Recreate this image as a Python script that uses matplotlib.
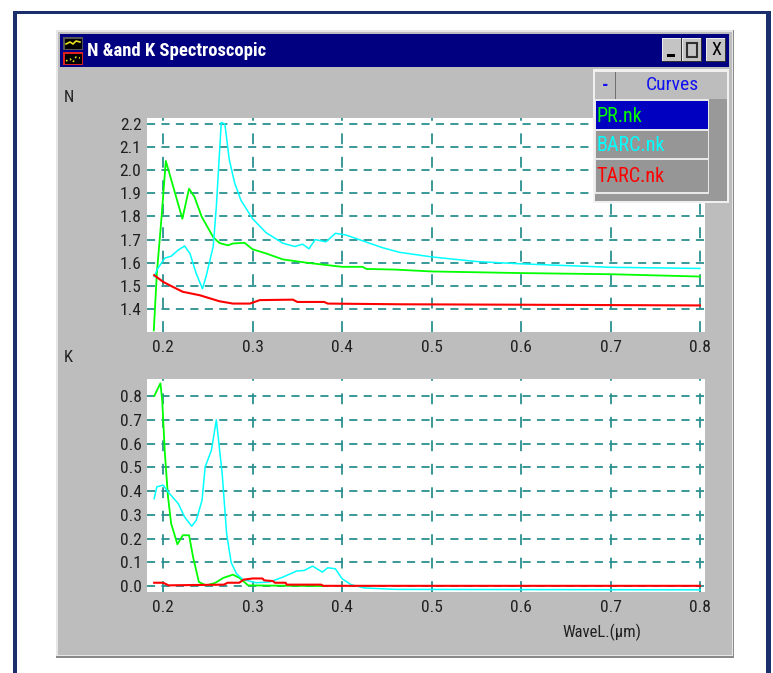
import matplotlib
matplotlib.use('Agg')
import matplotlib.pyplot as plt
from matplotlib.patches import Rectangle

W, H = 773, 673
plt.rcParams['font.family'] = ['Roboto Condensed', 'Liberation Sans', 'DejaVu Sans']

# N curves
n_pr_x = [.1896, .193, .198, .203, .209, .2215, .229, .235, .243, .256, .263, .2725, .278, .291, .30, .315, .334, .36, .382, .40, .423, .427, .46, .5, .6, .7, .8]
n_pr_y = [1.307, 1.553, 1.785, 2.04, 1.96, 1.79, 1.92, 1.885, 1.80, 1.71, 1.685, 1.675, 1.683, 1.686, 1.658, 1.64, 1.614, 1.60, 1.59, 1.582, 1.582, 1.573, 1.57, 1.562, 1.555, 1.55, 1.54]
n_barc_x = [.19, .194, .202, .209, .217, .224, .23, .237, .244, .248, .256, .2595, .265, .269, .274, .28, .287, .30, .315, .334, .347, .356, .363, .37, .382, .3925, .404, .419, .445, .464, .5, .55, .6, .7, .8]
n_barc_y = [1.54, 1.575, 1.62, 1.628, 1.655, 1.672, 1.64, 1.553, 1.487, 1.54, 1.67, 1.843, 2.207, 2.2, 2.045, 1.944, 1.87, 1.79, 1.73, 1.684, 1.67, 1.68, 1.66, 1.70, 1.69, 1.727, 1.72, 1.70, 1.665, 1.645, 1.625, 1.605, 1.595, 1.58, 1.575]
n_tarc_x = [.19, .2, .211, .222, .241, .263, .278, .297, .308, .345, .35, .38, .384, .464, .6, .8]
n_tarc_y = [1.546, 1.517, 1.495, 1.474, 1.459, 1.433, 1.423, 1.423, 1.438, 1.44, 1.43, 1.43, 1.423, 1.42, 1.418, 1.415]

# K curves
k_pr_x = [.19, .197, .199, .202, .2055, .209, .216, .222, .229, .2335, .24, .248, .258, .267, .278, .2855, .295, .38]
k_pr_y = [.80, .854, .783, .558, .375, .263, .176, .214, .214, .122, .017, .003, .013, .034, .048, .034, .003, 0]
k_barc_x = [.19, .193, .2, .207, .217, .224, .232, .237, .2435, .247, .254, .2595, .266, .271, .276, .282, .289, .304, .319, .334, .349, .358, .367, .378, .384, .3925, .40, .41, .425, .46, .8]
k_barc_y = [.368, .418, .425, .39, .347, .291, .252, .277, .361, .502, .572, .70, .474, .22, .10, .052, .028, .014, .017, .038, .063, .066, .084, .059, .077, .073, .031, .006, -.008, -.014, -.016]
k_tarc_x = [.19, .2, .206, .268, .272, .285, .29, .30, .311, .313, .3227, .325, .337, .338, .3766, .379, .8]
k_tarc_y = [.014, .014, .003, .006, .014, .014, .027, .032, .032, .024, .021, .014, .014, .006, .006, .001, .001]

x_ticks = [.2, .3, .4, .5, .6, .7, .8]
n_ticks = [1.4, 1.5, 1.6, 1.7, 1.8, 1.9, 2.0, 2.1, 2.2]
k_ticks = [0, .1, .2, .3, .4, .5, .6, .7, .8]
curve_names = ['PR.nk', 'BARC.nk', 'TARC.nk']
curve_colors = ['#00ff00', '#00ffff', '#ff0000']

GRAY = '#bdbdbd'
TEAL = '#2b9090'

fig = plt.figure(figsize=(W / 100, H / 100), dpi=100, facecolor='white')


def pixel_axes(z):
    a = fig.add_axes([0, 0, 1, 1], zorder=z)
    a.set_xlim(0, W)
    a.set_ylim(H, 0)
    a.axis('off')
    a.patch.set_alpha(0)
    return a


def box(a, x0, y0, x1, y1, color, **kw):
    a.add_patch(Rectangle((x0, y0), x1 - x0, y1 - y0, facecolor=color, edgecolor='none', **kw))


back = pixel_axes(0)
# outer frame
box(back, 13, 11, 771, 14, '#1a2f6b')
box(back, 13, 11, 17, H, '#1a2f6b')
box(back, 766, 11, 771, H, '#1a2f6b')
# window
box(back, 56, 30, 734, 658, '#8a8a8a')
box(back, 56, 30, 733, 656, '#e6e6e6')
box(back, 58, 32, 732, 655, GRAY)
box(back, 60, 34, 729, 67, '#000080')
back.text(87, 51, 'N &and K Spectroscopic', color='white', fontsize=13.4, fontweight='bold', va='center', ha='left')

# icon
for y0, edge in [(37, '#555555'), (52, '#e02020')]:
    box(back, 63, y0, 83, y0 + 13, edge)
    box(back, 64.5, y0 + 1.5, 81.5, y0 + 11.5, 'black')
back.plot([66, 70, 73, 76, 80], [44, 42, 44, 41, 42], color='#e8e020', lw=1.2)
back.plot([66, 70, 73, 76, 80], [61, 59, 62, 57, 58], color='#e8e020', lw=1.2, ls=':')

# window buttons
for x0, x1 in [(662, 682), (682, 702), (706, 726)]:
    box(back, x0, 38, x1, 62, '#303030')
    box(back, x0, 38, x1 - 1, 61, '#ececec')
    box(back, x0 + 1, 39, x1 - 1, 61, '#c4c4c4')
box(back, 667, 54, 675, 57, 'black')
back.add_patch(Rectangle((687, 43), 10, 14, facecolor='none', edgecolor='#303030', lw=1.5))
back.text(716, 50, 'X', color='black', fontsize=13, ha='center', va='center')

back.text(64, 97, 'N', fontsize=12, color='#202020', ha='left', va='center')
back.text(64, 358, 'K', fontsize=12, color='#202020', ha='left', va='center')
back.text(602, 632, 'WaveL.(µm)', fontsize=12, color='#202020', ha='center', va='center')


def plot_panel(top, bottom, ylim, yticks, curves):
    ax = fig.add_axes([147 / W, 1 - bottom / H, (705 - 147) / W, (bottom - top) / H], zorder=1)
    ax.set_facecolor('white')
    ax.set_xlim(.182, .8056)
    ax.set_ylim(*ylim)
    for s in ax.spines.values():
        s.set_visible(False)
    ax.set_xticks(x_ticks)
    ax.set_xticklabels(['%.1f' % v for v in x_ticks])
    ax.set_yticks(yticks)
    ax.set_yticklabels(['%.1f' % v for v in yticks])
    ax.tick_params(length=0, labelsize=12.5, labelcolor='#202020', pad=4)
    ax.tick_params(axis='x', pad=6)
    for v in x_ticks:
        ax.axvline(v, color=TEAL, lw=1.3, dashes=(6, 7), zorder=1)
    for v in yticks:
        ax.axhline(v, color=TEAL, lw=1.3, dashes=(4.5, 3.5), zorder=1)
    for (xs, ys), c, w in zip(curves, curve_colors, [1.3, 1.1, 1.5]):
        ax.plot(xs, ys, color=c, lw=w, solid_joinstyle='round', zorder=3)
    return ax


plot_panel(118, 332, (1.30, 2.226), n_ticks,
           [(n_pr_x, n_pr_y), (n_barc_x, n_barc_y), (n_tarc_x, n_tarc_y)])
plot_panel(379, 592, (-.025, .872), k_ticks,
           [(k_pr_x, k_pr_y), (k_barc_x, k_barc_y), (k_tarc_x, k_tarc_y)])

# curves list box
top = pixel_axes(5)
box(top, 593, 69, 729, 203, '#f0f0f0')
box(top, 595, 72, 727, 201, '#999999')
box(top, 595, 72, 727, 99, GRAY)
box(top, 615, 72, 616, 99, '#707070')
top.text(605, 86, '-', color='#1010f0', fontsize=13, fontweight='bold', ha='center', va='center')
top.text(672, 85, 'Curves', color='#1010f0', fontsize=14, ha='center', va='center')
rows = [(101, 129, '#0000c0'), (131, 158, '#969696'), (160, 192, '#969696')]
box(top, 595, 99, 709, 194, '#e8e8e8')
for (y0, y1, bg), name, c in zip(rows, curve_names, curve_colors):
    box(top, 596, y0, 708, y1, bg)
    top.text(596, (y0 + y1) / 2 + 1, name, color=c, fontsize=14.5, ha='left', va='center')

fig.savefig('out.png', dpi=100)
